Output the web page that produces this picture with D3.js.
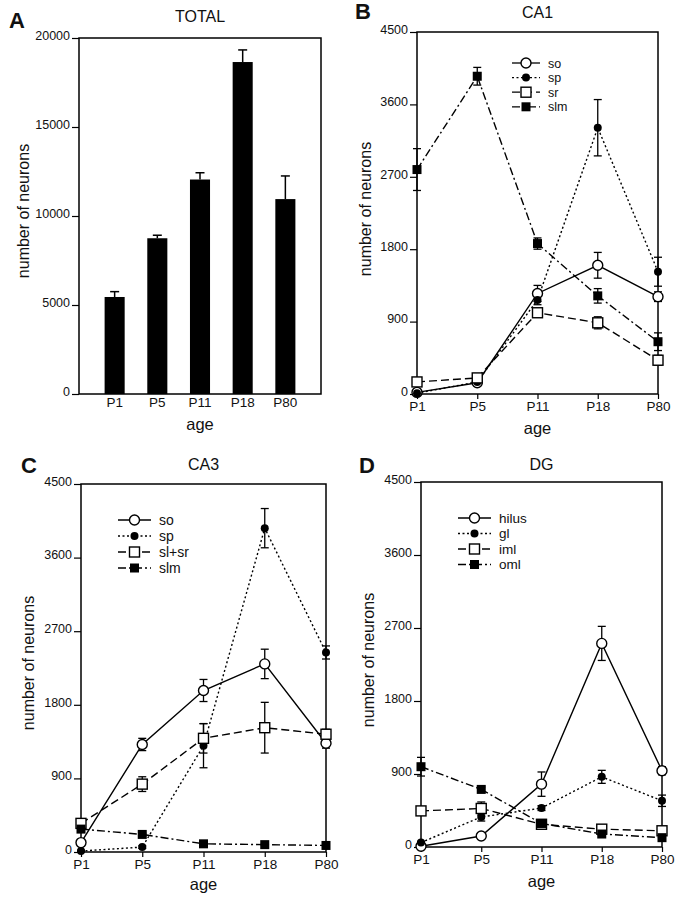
<!DOCTYPE html>
<html><head><meta charset="utf-8">
<script src="https://cdn.jsdelivr.net/npm/d3@7"></script>
<style>body{margin:0;background:#fff}svg{display:block}text{font-family:"Liberation Sans",Arial,sans-serif;fill:#111}</style>
</head><body><svg id="c" width="681" height="900"></svg>
<script>
// ---------------- data ----------------
const ages = ["P1","P5","P11","P18","P80"];
const yTicksTotal = [0,5000,10000,15000,20000];
const yTicksRegion = [0,900,1800,2700,3600,4500];

const totalMean = [5450, 8750, 12050, 18650, 10950];
const totalErr  = [300, 170, 380, 680, 1300];

const ca1So  = [20, 140, 1250, 1600, 1210];   const ca1SoErr  = [20, 30, 100, 160, 60];
const ca1Sp  = [10, 150, 1170, 3310, 1520];   const ca1SpErr  = [10, 20, 60, 350, 180];
const ca1Sr  = [150, 200, 1010, 885, 420];    const ca1SrErr  = [20, 30, 50, 75, 60];
const ca1Slm = [2790, 3950, 1870, 1220, 650]; const ca1SlmErr = [260, 110, 70, 90, 110];

const ca3So   = [115, 1315, 1975, 2300, 1330]; const ca3SoErr   = [30, 75, 135, 180, 60];
const ca3Sp   = [12, 60, 1300, 3960, 2440];    const ca3SpErr   = [10, 15, 270, 240, 80];
const ca3SlSr = [350, 830, 1390, 1520, 1440];  const ca3SlSrErr = [40, 90, 180, 310, 60];
const ca3Slm  = [280, 215, 100, 90, 80];       const ca3SlmErr  = [20, 15, 10, 10, 10];

const dgHilus = [10, 135, 775, 2510, 940];  const dgHilusErr = [10, 20, 150, 210, 50];
const dgGl    = [55, 370, 480, 865, 570];   const dgGlErr    = [15, 50, 30, 80, 70];
const dgIml   = [445, 475, 280, 220, 200];  const dgImlErr   = [30, 80, 20, 20, 20];
const dgOml   = [990, 710, 290, 160, 115];  const dgOmlErr   = [115, 30, 20, 15, 15];

const ca1Names = ["so","sp","sr","slm"];
const ca3Names = ["so","sp","sl+sr","slm"];
const dgNames  = ["hilus","gl","iml","oml"];

// ---------------- drawing ----------------
const svg = d3.select("#c");
const styles = [
  {marker:"openCircle", dash:null},
  {marker:"fillCircle", dash:"2,2.5"},
  {marker:"openSquare", dash:"8,4"},
  {marker:"fillSquare", dash:"8,3,2,3"}
];

function drawMarker(g, type, x, y){
  if(type==="openCircle") g.append("circle").attr("cx",x).attr("cy",y).attr("r",5).attr("fill","#fff").attr("stroke","#000").attr("stroke-width",1.4);
  else if(type==="fillCircle") g.append("circle").attr("cx",x).attr("cy",y).attr("r",4).attr("fill","#000");
  else if(type==="openSquare") g.append("rect").attr("x",x-5).attr("y",y-5).attr("width",10).attr("height",10).attr("fill","#fff").attr("stroke","#000").attr("stroke-width",1.4);
  else g.append("rect").attr("x",x-4.5).attr("y",y-4.5).attr("width",9).attr("height",9).attr("fill","#000");
}

function commonText(p){
  svg.append("text").attr("x",p.letter[0]).attr("y",p.letter[1]).attr("font-size",22).attr("font-weight","bold").text(p.letterText);
  svg.append("text").attr("x",(p.x0+p.x1)/2).attr("y",p.titleY).attr("text-anchor","middle").attr("font-size",16).text(p.title);
  svg.append("text").attr("transform",`translate(${p.ylab[0]},${p.ylab[1]}) rotate(-90)`).attr("text-anchor","middle").attr("font-size",16).text("number of neurons");
  svg.append("text").attr("x",(p.x0+p.x1)/2).attr("y",p.ageY).attr("text-anchor","middle").attr("font-size",16.5).text("age");
}

function yAxis(p, y, ticks){
  const g = svg.append("g").attr("transform",`translate(${p.x0},0)`)
    .call(d3.axisLeft(y).tickValues(ticks).tickSizeInner(7).tickSizeOuter(0).tickPadding(2).tickFormat(d3.format("d")));
  g.select(".domain").remove();
  g.selectAll("line").attr("stroke","#000").attr("stroke-width",1.2);
  g.selectAll("text").attr("font-size",12.5).attr("font-family","Liberation Sans, Arial, sans-serif").attr("fill","#111").attr("dy","0.1em");
}

function frame(p){
  svg.append("rect").attr("x",p.x0).attr("y",p.y1).attr("width",p.x1-p.x0).attr("height",p.y0-p.y1)
    .attr("fill","none").attr("stroke","#000").attr("stroke-width",1.5);
}

// Panel A
(function(){
  const p = {x0:79,x1:321,y0:394,y1:38,letter:[9,28],letterText:"A",title:"TOTAL",titleY:22,ylab:[29,211],ageY:430};
  const x = d3.scaleBand().domain(ages).range([p.x0,p.x1]).paddingInner(0.53).paddingOuter(0.6);
  const y = d3.scaleLinear().domain([0,20000]).range([p.y0,p.y1]);
  commonText(p);
  yAxis(p,y,yTicksTotal);
  const bw = x.bandwidth();
  ages.forEach((a,i)=>{
    const cx = x(a)+bw/2;
    svg.append("line").attr("x1",cx).attr("x2",cx).attr("y1",y(totalMean[i])).attr("y2",y(totalMean[i]+totalErr[i])).attr("stroke","#000").attr("stroke-width",1.5);
    svg.append("line").attr("x1",cx-4.5).attr("x2",cx+4.5).attr("y1",y(totalMean[i]+totalErr[i])).attr("y2",y(totalMean[i]+totalErr[i])).attr("stroke","#000").attr("stroke-width",1.5);
    svg.append("rect").attr("x",x(a)).attr("y",y(totalMean[i])).attr("width",bw).attr("height",y(0)-y(totalMean[i])).attr("fill","#000");
  });
  const gx = svg.append("g").attr("transform",`translate(0,${p.y0})`).call(d3.axisBottom(x).tickSize(0).tickPadding(3));
  gx.select(".domain").remove();
  gx.selectAll("text").attr("font-size",13.5).attr("font-family","Liberation Sans, Arial, sans-serif").attr("fill","#111");
  frame(p);
})();

function linePanel(p, series, names){
  const x = d3.scalePoint().domain(ages).range([p.x0,p.x1]);
  const y = d3.scaleLinear().domain([0,4500]).range([p.y0,p.y1]);
  commonText(p);
  yAxis(p,y,yTicksRegion);
  const gx = svg.append("g").attr("transform",`translate(0,${p.y0})`).call(d3.axisBottom(x).tickSize(5).tickPadding(2));
  gx.select(".domain").remove();
  gx.selectAll("line").attr("stroke","#000").attr("stroke-width",1.2);
  gx.selectAll("text").attr("font-size",13.5).attr("font-family","Liberation Sans, Arial, sans-serif").attr("fill","#111");
  frame(p);
  const line = d3.line().x((d,i)=>x(ages[i])).y(d=>y(d));
  series.forEach((s,k)=>{
    const st = styles[k];
    svg.append("path").attr("d",line(s.v)).attr("fill","none").attr("stroke","#000").attr("stroke-width",1.4)
      .attr("stroke-dasharray",st.dash);
  });
  series.forEach((s,k)=>{
    const g = svg.append("g");
    s.v.forEach((v,i)=>{
      const cx = x(ages[i]);
      const lo = y(v - s.e[i]), hi = y(v + s.e[i]);
      g.append("line").attr("x1",cx).attr("x2",cx).attr("y1",lo).attr("y2",hi).attr("stroke","#000").attr("stroke-width",1.3);
      [lo,hi].forEach(yy=>g.append("line").attr("x1",cx-4).attr("x2",cx+4).attr("y1",yy).attr("y2",yy).attr("stroke","#000").attr("stroke-width",1.3));
    });
  });
  series.forEach((s,k)=>{
    const g = svg.append("g");
    s.v.forEach((v,i)=>drawMarker(g, styles[k].marker, x(ages[i]), y(v)));
  });
  // legend
  names.forEach((n,k)=>{
    const ly = p.leg.y + k*p.leg.dy;
    const g = svg.append("g");
    g.append("line").attr("x1",p.leg.x).attr("x2",p.leg.x+p.leg.w).attr("y1",ly).attr("y2",ly)
      .attr("stroke","#000").attr("stroke-width",1.3).attr("stroke-dasharray",styles[k].dash);
    drawMarker(g, styles[k].marker, p.leg.x+p.leg.w/2, ly);
    g.append("text").attr("x",p.leg.x+p.leg.w+8).attr("y",ly+4.5).attr("font-size",p.leg.fs).text(n);
  });
}

linePanel({x0:417,x1:658,y0:394,y1:32,letter:[355,19],letterText:"B",title:"CA1",titleY:18,ylab:[371,209],ageY:434,
  leg:{x:512,w:28,y:63,dy:14.6,fs:12.5}},
  [{v:ca1So,e:ca1SoErr},{v:ca1Sp,e:ca1SpErr},{v:ca1Sr,e:ca1SrErr},{v:ca1Slm,e:ca1SlmErr}], ca1Names);

linePanel({x0:81,x1:326,y0:852,y1:484,letter:[21,473],letterText:"C",title:"CA3",titleY:470,ylab:[34,663],ageY:890,
  leg:{x:118,w:33,y:520,dy:16,fs:14}},
  [{v:ca3So,e:ca3SoErr},{v:ca3Sp,e:ca3SpErr},{v:ca3SlSr,e:ca3SlSrErr},{v:ca3Slm,e:ca3SlmErr}], ca3Names);

linePanel({x0:421,x1:662,y0:847,y1:482,letter:[359,473],letterText:"D",title:"DG",titleY:470,ylab:[374,660],ageY:887,
  leg:{x:458,w:33,y:518,dy:15.5,fs:13.5}},
  [{v:dgHilus,e:dgHilusErr},{v:dgGl,e:dgGlErr},{v:dgIml,e:dgImlErr},{v:dgOml,e:dgOmlErr}], dgNames);
</script></body></html>
